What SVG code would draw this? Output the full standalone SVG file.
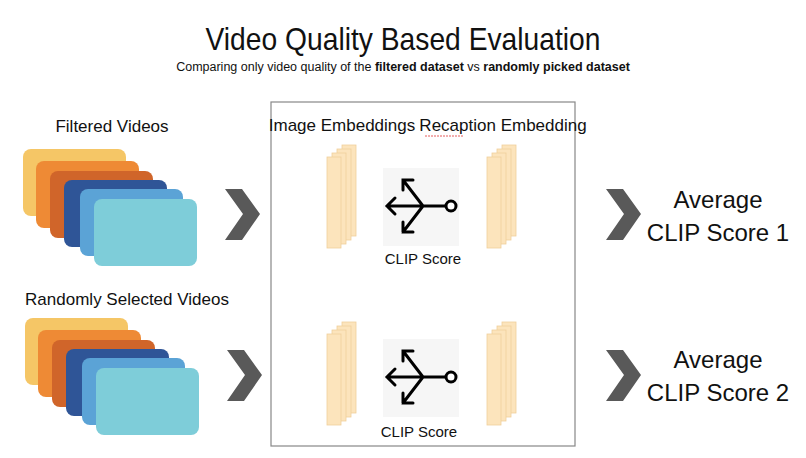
<svg xmlns="http://www.w3.org/2000/svg" width="806" height="458" viewBox="0 0 806 458">
<style>
text{font-family:"Liberation Sans",Arial,sans-serif;fill:#111}
.lbl{font-size:17px;text-anchor:middle}
.big{font-size:24px;text-anchor:middle}
.emb{fill:#FCE4BC;stroke:#F0CF9C;stroke-width:0.8}
.ic{stroke:#000;stroke-width:3;fill:none;stroke-linecap:round}
.chev{fill:#595959}
</style>
<defs>
<g id="stack">
<rect x="0" y="0" width="103" height="67" rx="8" fill="#F5C666"/>
<rect x="13" y="12" width="103" height="67" rx="8" fill="#EE8A35"/>
<rect x="27" y="22" width="103" height="67" rx="8" fill="#D0652A"/>
<rect x="41" y="31" width="103" height="67" rx="8" fill="#2F5597"/>
<rect x="57" y="40" width="103" height="67" rx="8" fill="#5BA3D6"/>
<rect x="71" y="50" width="103" height="67" rx="8" fill="#7ECDD9"/>
</g>
<g id="emb">
<rect class="emb" x="15" y="0" width="14" height="91"/>
<rect class="emb" x="10" y="4" width="14" height="91"/>
<rect class="emb" x="5" y="8" width="14" height="91"/>
<rect class="emb" x="0" y="12" width="14" height="91"/>
</g>
<g id="clip">
<rect x="-42" y="-38" width="76" height="78" fill="#f6f6f6"/>
<path class="ic" d="M-38 0H21M-2 0L-22-26M-2 0L-22 26M-30-8L-38 0L-30 8M-22-16V-26H-12M-22 16V26H-12"/>
<circle cx="26" cy="0" r="5" fill="#fff" stroke="#000" stroke-width="3"/>
</g>
<path id="chev" class="chev" d="M0 0H17L35 25L17 51H0L18 25Z"/>
</defs>
<text x="403" y="50" font-size="32" text-anchor="middle" textLength="395" lengthAdjust="spacingAndGlyphs">Video Quality Based Evaluation</text>
<text x="403" y="71" font-size="12.5" text-anchor="middle">Comparing only video quality of the <tspan font-weight="bold">filtered dataset</tspan> vs <tspan font-weight="bold">randomly picked dataset</tspan></text>
<g id="filtered">
<text class="lbl" x="112" y="132">Filtered Videos</text>
<use href="#stack" x="23" y="149"/>
</g>
<g id="random">
<text class="lbl" x="127" y="305">Randomly Selected Videos</text>
<use href="#stack" x="25" y="318"/>
</g>
<g id="panel">
<rect x="271" y="102" width="304" height="344" fill="none" stroke="#888" stroke-width="1.2"/>
<text class="lbl" x="342" y="131">Image Embeddings</text>
<text class="lbl" x="503" y="131">Recaption Embedding</text>
<path d="M425 136h38" stroke="#d33" stroke-width="0.8" stroke-dasharray="2 1"/>
</g>
<g id="emb1"><use href="#emb" x="327" y="145"/><use href="#emb" x="487" y="145"/></g>
<g id="clip1"><use href="#clip" x="425" y="206"/><text x="423" y="264" font-size="15" text-anchor="middle">CLIP Score</text></g>
<g id="emb2"><use href="#emb" x="327" y="322"/><use href="#emb" x="487" y="322"/></g>
<g id="clip2"><use href="#clip" x="425" y="377"/><text x="419" y="437" font-size="15" text-anchor="middle">CLIP Score</text></g>
<g id="connectors">
<use href="#chev" x="225" y="189"/>
<use href="#chev" x="227" y="350"/>
<use href="#chev" x="606" y="189"/>
<use href="#chev" x="606" y="350"/>
</g>
<g id="avg1"><text class="big" x="718" y="208">Average</text><text class="big" x="718" y="241">CLIP Score 1</text></g>
<g id="avg2"><text class="big" x="718" y="368">Average</text><text class="big" x="718" y="401">CLIP Score 2</text></g>
</svg>
